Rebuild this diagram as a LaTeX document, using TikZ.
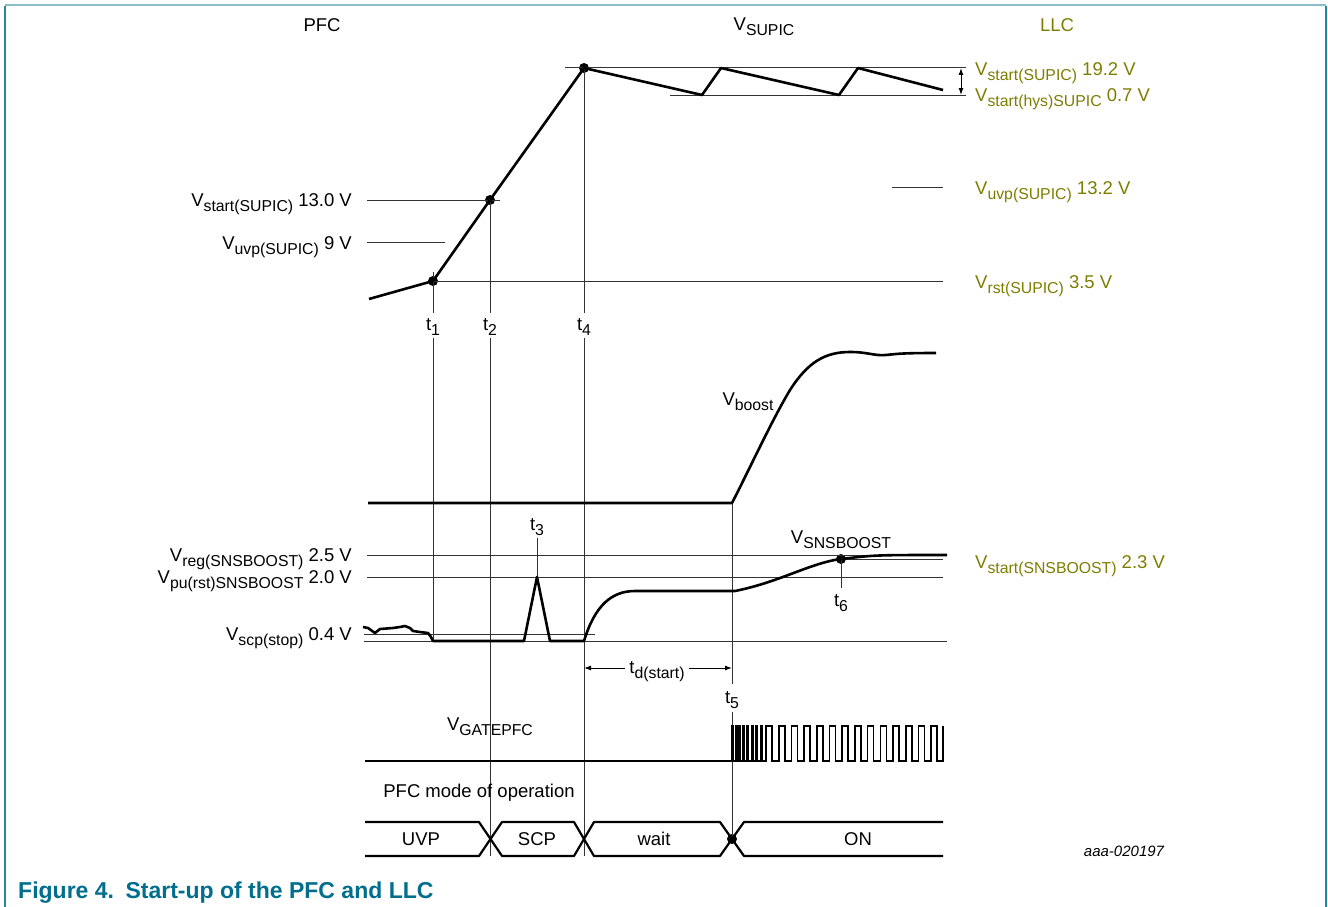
\documentclass[tikz,border=0pt]{standalone}
\usepackage{fontspec}
\setmainfont{Liberation Sans}
\usetikzlibrary{arrows.meta}
\definecolor{olv}{RGB}{125,125,0}
\definecolor{capt}{RGB}{0,110,140}
\definecolor{frm}{RGB}{35,135,165}
\definecolor{frmtop}{RGB}{140,190,205}
\newcommand\sbs[1]{\raisebox{-5pt}{\fontsize{15.8}{17}\selectfont #1}}
\newcommand\lbf{\fontsize{18.5}{22}\selectfont}
\begin{document}
\begin{tikzpicture}[x=1pt,y=-1pt,
  guide/.style={line width=1pt, draw=black!80},
  wave/.style={line width=2.6pt, line join=round},
  dotn/.style={circle, fill=black, inner sep=0pt, minimum size=10pt},
  lbl/.style={font=\lbf, inner sep=0pt},
  lblr/.style={lbl, anchor=base east},
  lbll/.style={lbl, anchor=base west, text=olv},
  lblc/.style={lbl, anchor=base},
  dim/.style={line width=1pt, {Latex[length=7pt,width=5pt]}-{Latex[length=7pt,width=5pt]}},
]
\useasboundingbox (0,0) rectangle (1328,907);
% frame
\draw[frmtop, line width=2pt] (5,5) -- (1326,5);
\draw[frm, line width=1.6pt] (5,6) -- (5,907);
\draw[frm, line width=1.6pt] (1326,6) -- (1326,907);

% headers
\node[lblc] (hpfc) at (322,31.5) {PFC};
\node[lblc] (hsup) at (764,31) {V\sbs{SUPIC}};
\node[lblc, text=olv] (hllc) at (1057,31.5) {LLC};

% key points
\node[dotn] (t1dot) at (433,281) {};
\node[dotn] (t2dot) at (490,200) {};
\node[dotn] (t4dot) at (584,68) {};
\node[dotn] (t6dot) at (841,559) {};
\node[dotn] (t5dot) at (732,839) {};
\coordinate (vbst) at (732,503);

% horizontal guides top
\draw[guide] (565,68) -- (966,68);
\draw[guide] (670,95) -- (966,95);
\draw[guide] (892,187) -- (943,187);
\draw[guide] (367,200) -- (500,200);
\draw[guide] (367,242) -- (445,242);
\draw[guide] (t1dot.center) -- (943,281);
\draw[dim] (961,68) -- (961,95);

% vertical t lines
\draw[guide] (433,272) -- (433,313);
\draw[guide] (433,338) -- (433,641);
\draw[guide] (t2dot.center) -- (490,313);
\draw[guide] (490,338) -- (490,856);
\draw[guide] (t4dot.center) -- (584,313);
\draw[guide] (584,338) -- (584,856);
\draw[guide] (vbst) -- (732,684);
\draw[guide] (732,712) -- (t5dot.center);
\draw[guide] (537,538) -- (537,577);
\draw[guide] (t6dot.center) -- (841,588);

% VSUPIC waveform
\draw[wave] (369,299) -- (t1dot.center) -- (t2dot.center) -- (t4dot.center) -- (702,95) -- (721,68) -- (839,95) -- (858,68) -- (943,90);

% top labels
\node[lblr] (lst13) at (352,206.5) {V\sbs{start(SUPIC)} 13.0 V};
\node[lblr] (luvp9) at (352,249) {V\sbs{uvp(SUPIC)} 9 V};
\node[lbll] (lst19) at (975,75.5) {V\sbs{start(SUPIC)} 19.2 V};
\node[lbll] (lhys) at (975,102) {V\sbs{start(hys)SUPIC} 0.7 V};
\node[lbll] (luvp13) at (975,194) {V\sbs{uvp(SUPIC)} 13.2 V};
\node[lbll] (lrst) at (975,288) {V\sbs{rst(SUPIC)} 3.5 V};
\node[lblc] (lt1) at (433,330) {t\sbs{1}};
\node[lblc] (lt2) at (490,330) {t\sbs{2}};
\node[lblc] (lt4) at (584,330) {t\sbs{4}};

% Vboost
\draw[wave] (368,503) -- (vbst) .. controls (750,468) and (772,420) .. (790,390)
  .. controls (808,362) and (825,352) .. (850,352)
  .. controls (868,352) and (874,356) .. (886,355)
  .. controls (896,354) and (900,353) .. (936,353);
\node[lblc] (lvb) at (748,405) {V\sbs{boost}};

% SNSBOOST guides
\draw[guide] (367,555) -- (943,555);
\draw[guide] (367,577) -- (943,577);
\draw[guide] (364,634) -- (595,634);
\draw[guide] (364,641) -- (947,641);
\draw[guide] (t6dot.center) -- (943,559);

% SNSBOOST waveform
\draw[wave] (363,627) -- (368,628) -- (375,633) -- (380,629) -- (393,628) -- (400,627) -- (405,626) -- (410,628) -- (413,631) -- (420,632) -- (428,633) -- (431,637) -- (433,641) -- (524,641) -- (537,577) -- (550,641) -- (584,641)
  .. controls (595,605) and (612,591) .. (635,591) -- (735,591)
  .. controls (780,582) and (810,563) .. (t6dot.center)
  .. controls (875,555) .. (947,555);

\node[lblr] (lreg) at (352,561) {V\sbs{reg(SNSBOOST)} 2.5 V};
\node[lblr] (lpu) at (352,583.5) {V\sbs{pu(rst)SNSBOOST} 2.0 V};
\node[lblr] (lscp) at (352,640) {V\sbs{scp(stop)} 0.4 V};
\node[lbll] (lstsns) at (975,568) {V\sbs{start(SNSBOOST)} 2.3 V};
\node[lblc] (lsns) at (841,543) {V\sbs{SNSBOOST}};
\node[lblc] (lt3) at (537,530) {t\sbs{3}};
\node[lblc] (lt6) at (841,606) {t\sbs{6}};
\node[lblc] (lt5) at (732,703) {t\sbs{5}};

% td(start)
\coordinate (tda) at (584,668);
\coordinate (tdb) at (732,668);
\draw[dim] (tda) -- (tdb);
\node[lblc, fill=white, inner xsep=4pt, inner ysep=6pt] (ltd) at (657,673) {t\sbs{d(start)}};

% gate
\node[lblc] (lgate) at (490,730) {V\sbs{GATEPFC}};
\draw[line width=2.6pt] (365,761) -- (733,761);
\draw[line width=1.6pt, line join=miter] (732,761)
  foreach \x in {732,735.5,739,743,747,751.5,756,760.5} { -- (\x,761) -- (\x,726) -- ({\x+1.6},726) -- ({\x+1.6},761) }
  foreach \x in {766,778.7,791.4,804.1,816.8,829.5,842.2,854.9,867.6,880.3,893,905.7,918.4,931.1} { -- (\x,761) -- (\x,726) -- ({\x+6},726) -- ({\x+6},761) }
  -- (943,761) -- (943,726);

\node[lblc] (lmode) at (479,797) {PFC mode of operation};

% state bar
\draw[line width=2.2pt, line join=round] (365,822) -- (479,822) -- (502,856) -- (574,856) -- (594,822) -- (720,822) -- (744,856) -- (943,856);
\draw[line width=2.2pt, line join=round] (365,856) -- (479,856) -- (502,822) -- (574,822) -- (594,856) -- (720,856) -- (744,822) -- (943,822);
\node[lblc] (suvp) at (421,845) {UVP};
\node[lblc] (sscp) at (537,845) {SCP};
\node[lblc] (swait) at (654,845) {wait};
\node[lblc] (son) at (858,845) {ON};

\node[anchor=base, inner sep=0pt, font=\fontsize{15}{18}\selectfont\itshape] (ref) at (1124,856) {aaa-020197};
\node[anchor=base west, inner sep=0pt, text=capt, font=\fontsize{23}{27}\selectfont\bfseries] (cap) at (18,898) {Figure 4.\hspace{0.5em}Start-up of the PFC and LLC};
\end{tikzpicture}
\end{document}
